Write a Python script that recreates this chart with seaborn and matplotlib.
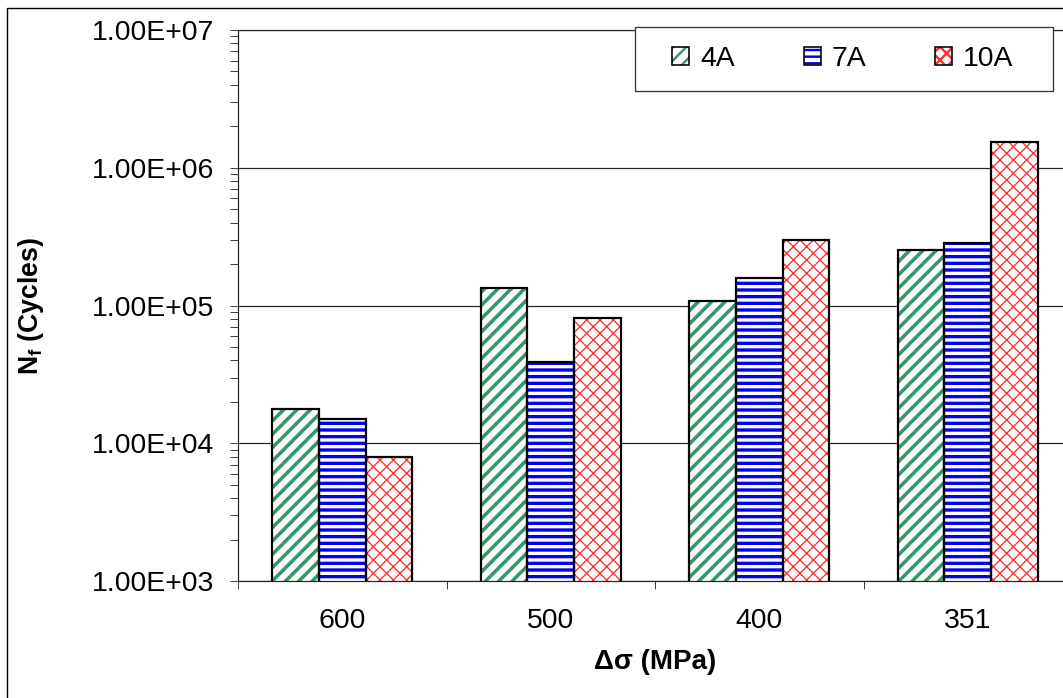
import numpy as np
import pandas as pd
import matplotlib
matplotlib.use("Agg")
import matplotlib.pyplot as plt
import seaborn as sns
from matplotlib.patches import Patch, Rectangle
from matplotlib.ticker import FuncFormatter, LogLocator, NullFormatter, FixedLocator

# ---- data ----
stress = ["600", "500", "400", "351"]
currents = ["4A", "7A", "10A"]
cycles_4A = [17700, 134000, 108000, 253000]
cycles_7A = [15000, 38900, 158000, 284000]
cycles_10A = [7950, 81200, 299000, 1545000]

# ---- styles ----
hatches = ["//", "--", "xx"]
hatch_colors = ["#339966", "#0000ff", "#ff3030"]
hatch_lws = [3.2, 3.0, 1.2]

DPI = 80
W, H = 1063, 698


def pt(px):
    return px * 72.0 / DPI


sns.set_theme(style="white")
plt.rcParams["font.family"] = ["Liberation Sans", "DejaVu Sans"]
plt.rcParams["mathtext.fontset"] = "custom"
plt.rcParams["mathtext.rm"] = "Liberation Sans"
plt.rcParams["mathtext.bf"] = "Liberation Sans:bold"
plt.rcParams["hatch.linewidth"] = 2.2
plt.rcParams["text.color"] = "black"
plt.rcParams["axes.labelcolor"] = "black"

rows = []
for cur, vals in zip(currents, [cycles_4A, cycles_7A, cycles_10A]):
    for s, v in zip(stress, vals):
        rows.append({"stress": s, "current": cur, "cycles": v})
df = pd.DataFrame(rows)

fig = plt.figure(figsize=(W / DPI, H / DPI), dpi=DPI)
fig.patch.set_facecolor("white")
ax = fig.add_axes([238 / W, 1 - 581 / H, 834 / W, 551 / H])
ax.set_yscale("log")

sns.barplot(data=df, x="stress", y="cycles", hue="current", order=stress,
            hue_order=currents, palette=["white"] * 3, saturation=1,
            width=0.67, errorbar=None, legend=False, ax=ax, zorder=2)
for cont, h, hc, hl in zip(ax.containers, hatches, hatch_colors, hatch_lws):
    for p in cont:
        p.set_hatch(h)
        p.set_edgecolor(hc)
        p.set_linewidth(0)
        if hasattr(p, "set_hatch_linewidth"):
            p.set_hatch_linewidth(hl)

sns.barplot(data=df, x="stress", y="cycles", hue="current", order=stress,
            hue_order=currents, palette=["black"] * 3, saturation=1,
            width=0.67, errorbar=None, legend=False, ax=ax, fill=False,
            linewidth=pt(2.2), zorder=3)

ax.set_xlim(-0.5, 3.5)
ax.set_ylim(1e3, 1e7)
ax.yaxis.set_major_locator(LogLocator(base=10, numticks=10))
ax.yaxis.set_minor_locator(LogLocator(base=10, subs=np.arange(2, 10), numticks=40))
ax.yaxis.set_major_formatter(FuncFormatter(lambda v, p: f"{v:.2E}"))
ax.yaxis.set_minor_formatter(NullFormatter())
ax.tick_params(axis="y", which="both", direction="out", length=pt(8),
               width=pt(1), color="#444444", left=True, labelsize=25.5,
               pad=pt(16), labelcolor="black")
ax.grid(axis="y", which="major", color="#222222", lw=pt(1.2))
ax.grid(axis="x", visible=False)
ax.set_axisbelow(True)

ax.set_xticks(range(len(stress)))
ax.set_xticklabels(stress)
ax.xaxis.set_minor_locator(FixedLocator(np.arange(-0.5, 4.0, 1.0)))
ax.tick_params(axis="x", which="major", length=0, labelsize=25.5, pad=pt(27),
               labelcolor="black")
ax.tick_params(axis="x", which="minor", length=pt(8), direction="out",
               bottom=True, width=pt(1), color="#444444")

for side in ["left", "bottom", "top"]:
    ax.spines[side].set_visible(True)
    ax.spines[side].set_color("#222222")
    ax.spines[side].set_linewidth(pt(1.2))
ax.spines["right"].set_visible(False)

ax.set_xlabel("Δσ (MPa)", fontsize=25, fontweight="bold", color="black")
ax.xaxis.set_label_coords(0.5, (581 - 649) / 551)
ax.set_ylabel(r"$\mathbf{N_f}$ (Cycles)", fontsize=24, fontweight="bold",
              color="black")
ax.yaxis.set_label_coords((46 - 238) / 834, 0.5)

# legend
fs_px = 25.5 / 72 * DPI
handles = []
for h, hc, hl in zip(hatches, hatch_colors, hatch_lws):
    hp = Patch(facecolor="white", edgecolor=hc, hatch=h, lw=0)
    if hasattr(hp, "set_hatch_linewidth"):
        hp.set_hatch_linewidth(hl * 0.8)
    op = Patch(facecolor="none", edgecolor="black", lw=pt(1.6))
    handles.append((hp, op))
fig.add_artist(Rectangle((635 / W, 1 - 91 / H), 418 / W, 64 / H,
                         transform=fig.transFigure, facecolor="white",
                         edgecolor="#333333", lw=pt(1.3), zorder=4))
fig.legend(handles, currents, loc="center left",
           bbox_to_anchor=(672 / W, 1 - 59 / H), bbox_transform=fig.transFigure,
           ncol=3, frameon=False, fontsize=25.5, labelcolor="black",
           handlelength=17 / fs_px, handleheight=16 / fs_px,
           handletextpad=11 / fs_px, columnspacing=69 / fs_px,
           borderpad=0, borderaxespad=0).set_zorder(5)

# outer chart border
fig.add_artist(Rectangle((7 / W, -0.1), 1.5, 1 - 8 / H + 0.1,
                         transform=fig.transFigure, fill=False,
                         edgecolor="black", lw=pt(1.4), zorder=0))

fig.savefig("out.png", dpi=DPI)
